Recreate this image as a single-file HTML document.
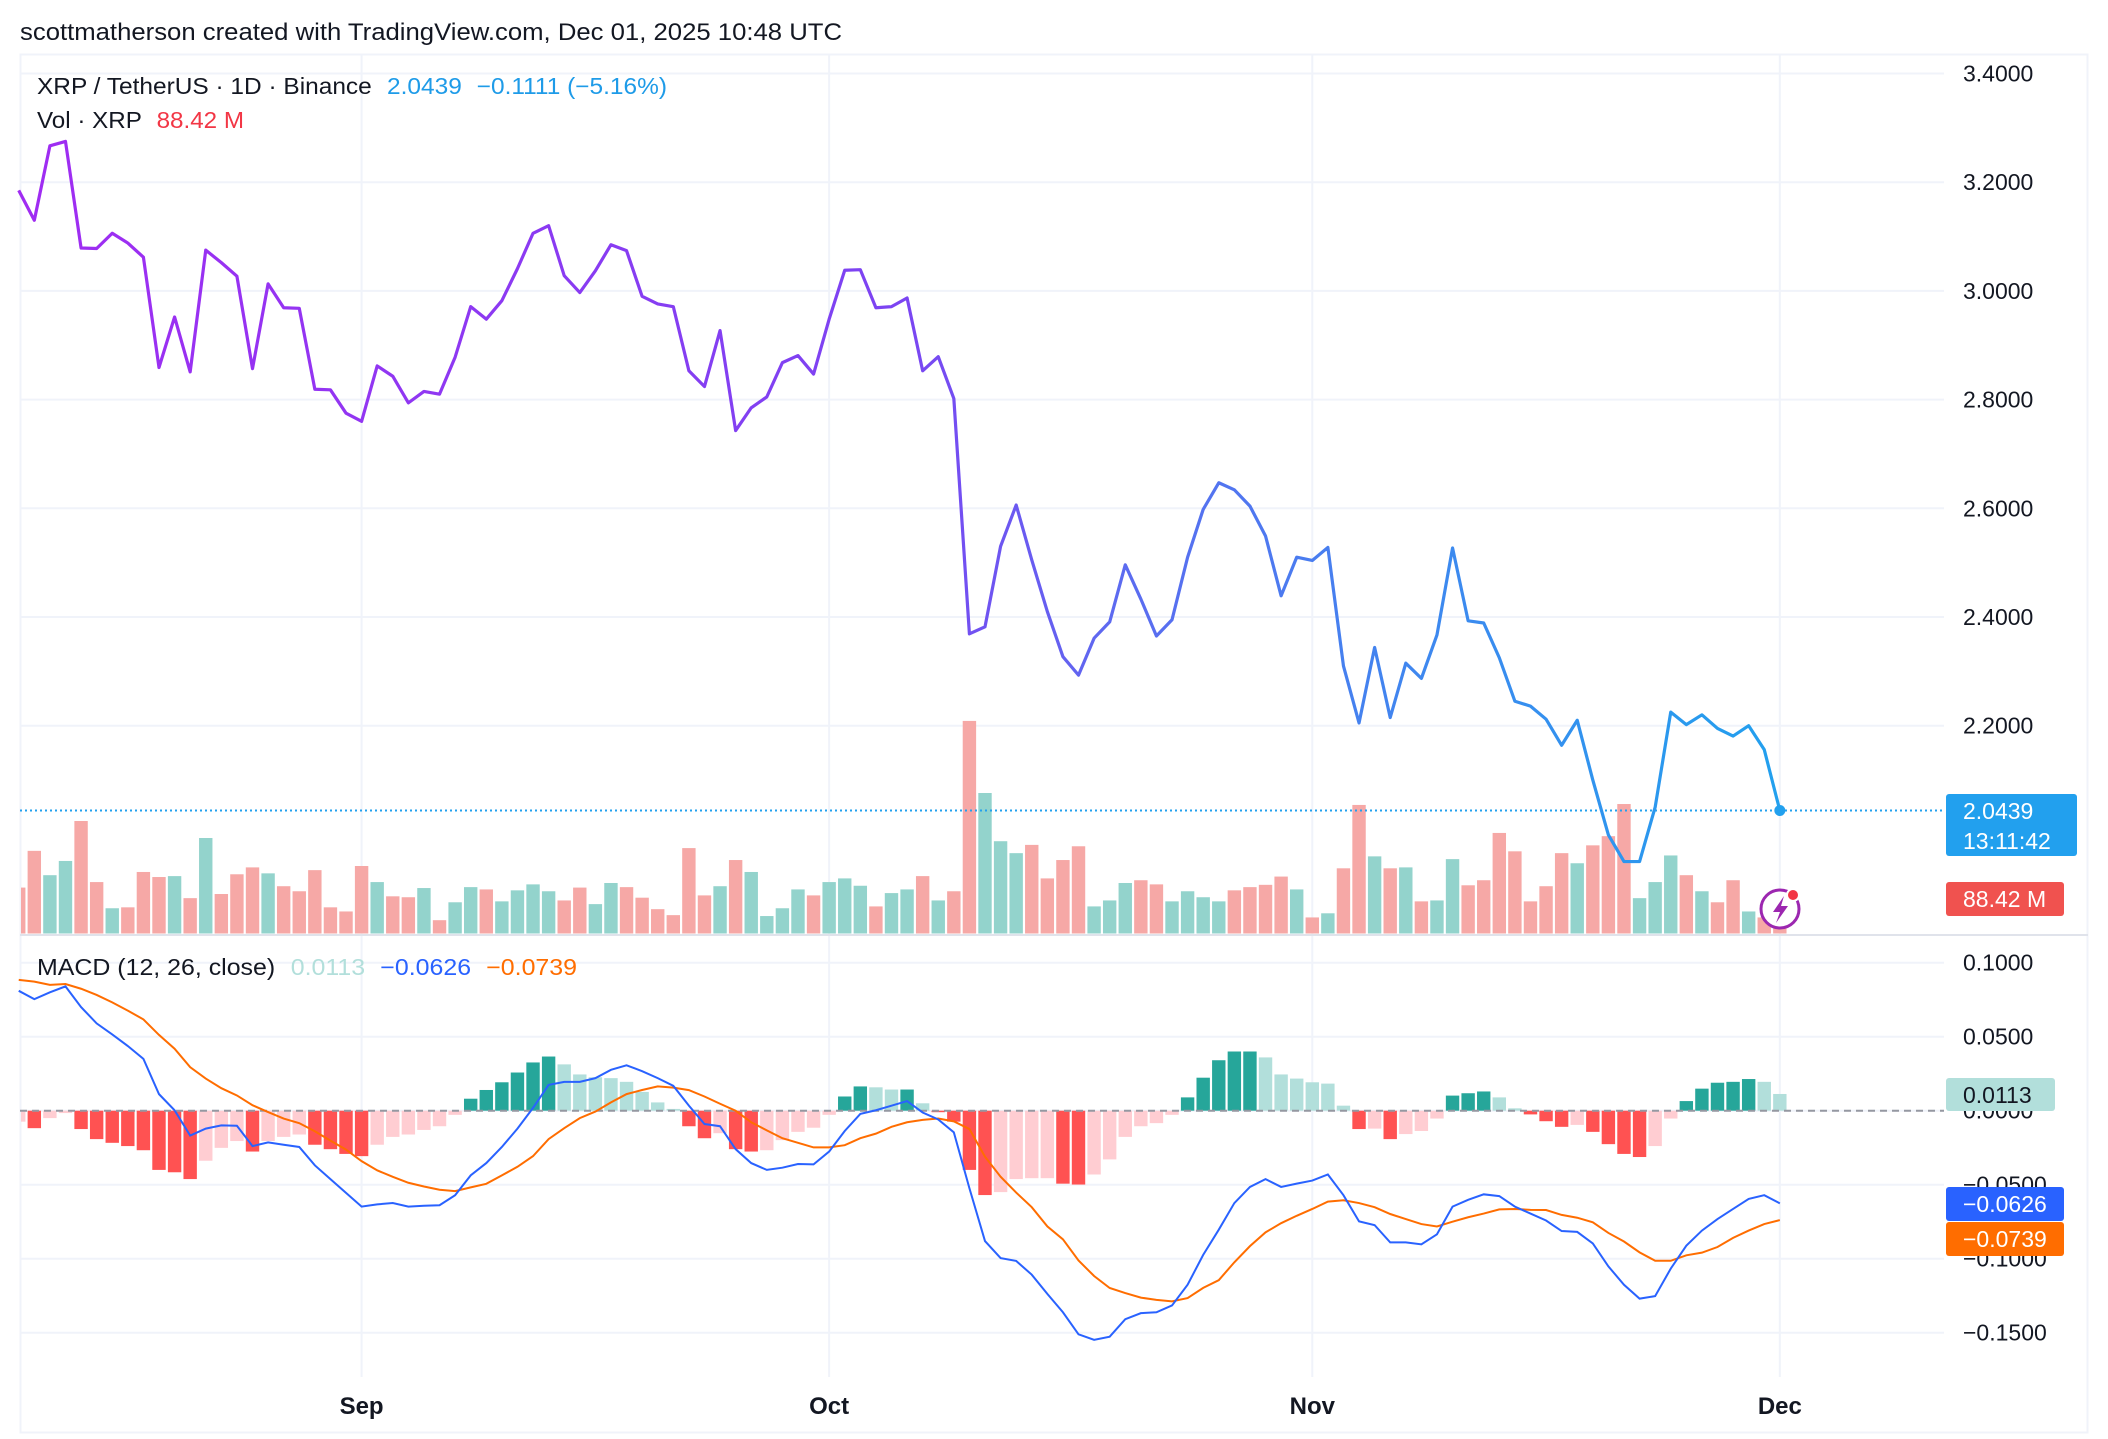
<!DOCTYPE html>
<html><head><meta charset="utf-8"><style>
html,body{margin:0;padding:0;background:#fff;}
svg{display:block;font-family:"Liberation Sans",sans-serif;}
</style></head><body>
<svg id="chart" width="2108" height="1439" viewBox="0 0 2108 1439" xmlns="http://www.w3.org/2000/svg">
<defs>
<linearGradient id="pg" gradientUnits="userSpaceOnUse" x1="20" y1="0" x2="1780" y2="0">
<stop offset="0" stop-color="#a02cf2"/><stop offset="0.5" stop-color="#7c44f2"/><stop offset="0.62" stop-color="#5d6af0"/><stop offset="0.8" stop-color="#3e88ef"/><stop offset="1" stop-color="#22a0ee"/>
</linearGradient>
</defs>
<rect x="0" y="0" width="2108" height="1439" fill="#fff"/>
<text x="20" y="40" font-size="24" fill="#131722" textLength="822" lengthAdjust="spacingAndGlyphs">scottmatherson created with TradingView.com, Dec 01, 2025 10:48 UTC</text>
<rect x="20.5" y="54.5" width="2067" height="1378" fill="none" stroke="#f0f3fa" stroke-width="2"/>
<g id="grid"></g>
<g id="vol"></g>
<g id="price"></g>
<g id="macd"></g>
<g id="axes"></g>
<line x1="20" y1="935" x2="2088" y2="935" stroke="#e0e3eb" stroke-width="2"/>
<text x="37" y="94" font-size="23" fill="#131722" textLength="630" lengthAdjust="spacingAndGlyphs">XRP / TetherUS · 1D · Binance <tspan fill="#1e9be8" dx="8">2.0439</tspan><tspan fill="#1e9be8" dx="14">−0.1111 (−5.16%)</tspan></text>
<text x="37" y="128" font-size="23" fill="#131722" textLength="207" lengthAdjust="spacingAndGlyphs">Vol · XRP <tspan fill="#f23645" dx="8">88.42 M</tspan></text>
<text x="37" y="975" font-size="23" fill="#131722" textLength="540" lengthAdjust="spacingAndGlyphs">MACD (12, 26, close) <tspan fill="#b2dfdb" dx="8">0.0113</tspan><tspan fill="#2962ff" dx="14">−0.0626</tspan><tspan fill="#ff6d00" dx="14">−0.0739</tspan></text>
<g>
<circle cx="1780" cy="909" r="19" fill="#fff" stroke="#9c27b0" stroke-width="3"/>
<path d="M1784 896 L1773 912 L1780 912 L1776 923 L1788 906 L1781 906 Z" fill="#9c27b0"/>
<circle cx="1793" cy="895" r="6" fill="#f23645" stroke="#fff" stroke-width="2"/>
</g>
</svg>
<script>
const NS='http://www.w3.org/2000/svg';
const startIdx=-22;
const priceVals=[3.185,3.130,3.267,3.275,3.079,3.078,3.106,3.088,3.062,2.859,2.952,2.851,3.075,3.052,3.027,2.857,3.013,2.969,2.968,2.819,2.818,2.775,2.760,2.862,2.843,2.794,2.815,2.810,2.878,2.971,2.948,2.982,3.041,3.106,3.120,3.028,2.997,3.037,3.085,3.074,2.990,2.976,2.971,2.853,2.824,2.927,2.743,2.785,2.805,2.868,2.881,2.847,2.948,3.038,3.039,2.969,2.971,2.987,2.853,2.879,2.802,2.369,2.382,2.530,2.606,2.505,2.410,2.327,2.293,2.361,2.391,2.496,2.433,2.365,2.395,2.510,2.598,2.647,2.634,2.604,2.549,2.439,2.510,2.504,2.528,2.310,2.205,2.344,2.215,2.315,2.287,2.367,2.527,2.393,2.389,2.325,2.245,2.236,2.212,2.164,2.210,2.100,1.999,1.950,1.950,2.050,2.225,2.202,2.220,2.195,2.181,2.200,2.156,2.0439];
const volVals=[100,180,127,158,245,112,55,57,134,123,125,77,208,86,129,144,131,103,92,138,57,48,147,112,81,79,99,29,68,101,96,70,94,107,92,72,100,64,110,101,78,53,40,186,83,103,160,134,38,55,96,83,112,120,104,59,88,96,125,72,92,463,306,201,175,193,120,160,190,59,72,110,116,107,70,92,79,70,94,101,106,124,96,35,44,142,280,168,142,144,70,72,162,105,116,219,179,70,103,175,153,192,212,282,77,112,170,127,92,68,116,48,35,12];
const volUp=[0,0,1,1,0,0,1,0,0,0,1,0,1,0,0,0,1,0,0,0,0,0,0,1,0,0,1,0,1,1,0,1,1,1,1,0,0,1,1,0,0,0,0,0,0,1,0,1,1,1,1,0,1,1,1,0,1,1,0,1,0,0,1,1,1,0,0,0,0,1,1,1,0,0,1,1,1,1,0,0,0,0,1,0,1,0,0,1,0,1,0,1,1,0,0,0,0,0,0,0,1,0,0,0,1,1,1,0,1,0,0,1,0,0];
const histVals=[-0.0074,-0.0118,-0.005,-0.0016,-0.0124,-0.0192,-0.0217,-0.0239,-0.0267,-0.040,-0.0416,-0.0462,-0.0338,-0.0251,-0.0205,-0.0276,-0.0205,-0.0177,-0.0161,-0.023,-0.026,-0.0292,-0.0307,-0.023,-0.0177,-0.0161,-0.013,-0.0105,-0.0028,0.0081,0.014,0.0192,0.0258,0.0326,0.0366,0.0313,0.0245,0.0226,0.022,0.0195,0.0127,0.0056,0.0012,-0.0105,-0.0186,-0.0152,-0.026,-0.0276,-0.0267,-0.0199,-0.0143,-0.0115,-0.0028,0.0096,0.0164,0.0158,0.0143,0.0143,0.005,-0.0006,-0.0074,-0.040,-0.057,-0.055,-0.0462,-0.0456,-0.0456,-0.0493,-0.0499,-0.0431,-0.0329,-0.0177,-0.0105,-0.0084,-0.0028,0.009,0.0223,0.0341,0.040,0.040,0.036,0.0245,0.0217,0.0192,0.0183,0.0034,-0.0124,-0.0121,-0.0192,-0.0158,-0.0137,-0.0053,0.0102,0.0118,0.013,0.009,0.0016,-0.0025,-0.0071,-0.0109,-0.0096,-0.0143,-0.0226,-0.0292,-0.0313,-0.0239,-0.0053,0.0065,0.0149,0.0189,0.0195,0.0214,0.0195,0.0113];
const macdVals=[0.081,0.0754,0.080,0.084,0.070,0.059,0.0515,0.0437,0.035,0.0112,0.0003,-0.0168,-0.0121,-0.0099,-0.0102,-0.0239,-0.0214,-0.023,-0.0245,-0.0369,-0.0462,-0.0555,-0.0648,-0.0633,-0.0624,-0.0648,-0.0642,-0.0639,-0.0571,-0.0437,-0.0354,-0.0245,-0.0121,0.0019,0.0174,0.0195,0.0195,0.022,0.0276,0.0307,0.0267,0.022,0.0168,0.0034,-0.009,-0.0105,-0.026,-0.0354,-0.040,-0.0385,-0.036,-0.0363,-0.0276,-0.0137,-0.0022,0.0003,0.0034,0.0065,-0.0012,-0.0059,-0.0146,-0.0524,-0.0881,-0.0996,-0.1015,-0.1108,-0.1238,-0.1362,-0.1511,-0.1548,-0.1527,-0.1409,-0.1368,-0.1362,-0.1316,-0.1176,-0.0974,-0.0804,-0.0624,-0.0515,-0.0462,-0.0515,-0.0493,-0.0472,-0.0431,-0.0571,-0.0748,-0.0773,-0.089,-0.089,-0.0903,-0.0835,-0.0648,-0.0602,-0.0565,-0.0577,-0.0648,-0.0695,-0.0742,-0.0813,-0.0819,-0.0897,-0.1052,-0.1176,-0.127,-0.1253,-0.1067,-0.0912,-0.081,-0.0732,-0.0664,-0.0596,-0.0571,-0.0626];
const signalVals=[0.0884,0.0872,0.085,0.0856,0.0824,0.0782,0.0732,0.0676,0.0617,0.0512,0.0419,0.0294,0.0217,0.0152,0.0103,0.0037,-0.0009,-0.0053,-0.0084,-0.0139,-0.0202,-0.0263,-0.0341,-0.0403,-0.0447,-0.0487,-0.0512,-0.0534,-0.0543,-0.0518,-0.0494,-0.0437,-0.0379,-0.0307,-0.0192,-0.0118,-0.005,-0.0006,0.0056,0.0112,0.014,0.0164,0.0156,0.0139,0.0096,0.0047,0.0,-0.0078,-0.0133,-0.0186,-0.0217,-0.0248,-0.0248,-0.0233,-0.0186,-0.0155,-0.0109,-0.0078,-0.0062,-0.0053,-0.0072,-0.0124,-0.0311,-0.0446,-0.0553,-0.0652,-0.0782,-0.0869,-0.1012,-0.1117,-0.1198,-0.1232,-0.1263,-0.1278,-0.1288,-0.1266,-0.1197,-0.1145,-0.1024,-0.0915,-0.0822,-0.076,-0.071,-0.0664,-0.0614,-0.0605,-0.0624,-0.0652,-0.0698,-0.0732,-0.0766,-0.0782,-0.075,-0.072,-0.0695,-0.0667,-0.0664,-0.067,-0.0671,-0.0704,-0.0723,-0.0754,-0.0826,-0.0884,-0.0957,-0.1014,-0.1014,-0.0977,-0.0959,-0.0921,-0.0859,-0.081,-0.0766,-0.0739];
const priceTicks=[3.4,3.2,3.0,2.8,2.6,2.4,2.2];
const macdTicks=[0.1,0.05,0,-0.05,-0.1,-0.15];
const monthLabels=['Sep','Oct','Nov','Dec'];
const monthDays=[0,30,61,91];

const xOf=i=>361.6+(i+startIdx)*15.585;
const xDay=d=>361.6+d*15.585;
const yP=p=>73.5+(3.4-p)*543.5;
const yV=v=>933.5-v/2.178;
const yM=m=>1110.7-m*1480;
function el(tag,attrs,parent){const e=document.createElementNS(NS,tag);for(const k in attrs)e.setAttribute(k,attrs[k]);parent.appendChild(e);return e;}
const grid=document.getElementById('grid'),axes=document.getElementById('axes');
monthDays.forEach((d,k)=>{
  const l=el('line',{x1:xDay(d),x2:xDay(d),y1:55,y2:1377,stroke:'#f0f3fa','stroke-width':2},grid);
  
  
  const t=el('text',{x:xDay(d),y:1414,'font-size':24,'font-weight':'bold','text-anchor':'middle',fill:'#131722'},axes);
  t.textContent=monthLabels[k];
  
  
});
priceTicks.forEach(p=>{
  const l=el('line',{x1:20,x2:1944,y1:yP(p),y2:yP(p),stroke:'#f0f3fa','stroke-width':2},grid);
  
  
  const t=el('text',{x:1963,y:yP(p)+8,'font-size':23,fill:'#131722'},axes);
  t.textContent=p.toFixed(4);
  
  
});
macdTicks.forEach(m=>{
  const l=el('line',{x1:20,x2:1944,y1:yM(m),y2:yM(m),stroke:'#f0f3fa','stroke-width':2},grid);
  
  
  const t=el('text',{x:1963,y:yM(m)+8,'font-size':23,fill:'#131722'},axes);
  t.textContent=(m<0?'−':'')+Math.abs(m).toFixed(4);
  
  
});
const vg=document.getElementById('vol');
volVals.forEach((v,i)=>{
  const x=xOf(i);let x0=x-6.7,w=13.4;if(x0<21){w-=21-x0;x0=21;}
  const r=el('rect',{x:x0,y:yV(v),width:w,height:933.5-yV(v),fill:volUp[i]?'#93d3cc':'#f6a8a6'},vg);
  
  
});
const pg=document.getElementById('price');
const dl=el('line',{x1:20,x2:1944,y1:yP(priceVals[priceVals.length-1]),y2:yP(priceVals[priceVals.length-1]),stroke:'#22a0ee','stroke-width':2,'stroke-dasharray':'2 3'},pg);


const pp=el('polyline',{points:priceVals.map((p,i)=>xOf(i)+','+yP(p)).join(' '),fill:'none',stroke:'url(#pg)','stroke-width':3.2,'stroke-linejoin':'round'},pg);


const lastI=priceVals.length-1;
const dot=el('circle',{cx:xOf(lastI),cy:yP(priceVals[lastI]),r:5.5,fill:'#22a0ee'},pg);


const mg=document.getElementById('macd');
histVals.forEach((h,i)=>{
  const prev=i>0?histVals[i-1]:h;
  let c;
  if(h>=0)c=h>=prev?'#26a69a':'#b2dfdb';else c=h<prev?'#ff5252':'#ffcdd2';
  const x=xOf(i);let x0=x-6.7,w=13.4;if(x0<21){w-=21-x0;x0=21;}
  const y0=Math.min(yM(h),yM(0)),hh=Math.max(1.5,Math.abs(yM(h)-yM(0)));
  const r=el('rect',{x:x0,y:y0,width:w,height:hh,fill:c},mg);
  
  
});
const zl=el('line',{x1:20,x2:1944,y1:yM(0),y2:yM(0),stroke:'#9598a1','stroke-width':2,'stroke-dasharray':'7 5'},mg);


const sl=el('polyline',{points:signalVals.map((m,i)=>xOf(i)+','+yM(m)).join(' '),fill:'none',stroke:'#ff6d00','stroke-width':2},mg);


const ml=el('polyline',{points:macdVals.map((m,i)=>xOf(i)+','+yM(m)).join(' '),fill:'none',stroke:'#2962ff','stroke-width':2},mg);


function box(y,h,w,fill,lines,txtFill,name){
  const g=el('g',{},axes);
  
  
  el('rect',{x:1946,y:y,width:w,height:h,rx:3,fill:fill},g);
  lines.forEach((s,k)=>{const t=el('text',{x:1963,y:y+25+k*30,'font-size':23,fill:txtFill},g);t.textContent=s;});
}
box(794,62,131,'#22a0ee',['2.0439','13:11:42'],'#fff','price-label');
box(882,34,118,'#f0524f',['88.42 M'],'#fff','volume-label');
box(1078,33,109,'#b2dfdb',['0.0113'],'#131722','histogram-label');
box(1187,34,118,'#2962ff',['−0.0626'],'#fff','macd-label');
box(1222,34,118,'#ff6d00',['−0.0739'],'#fff','signal-label');
</script>
</body></html>
